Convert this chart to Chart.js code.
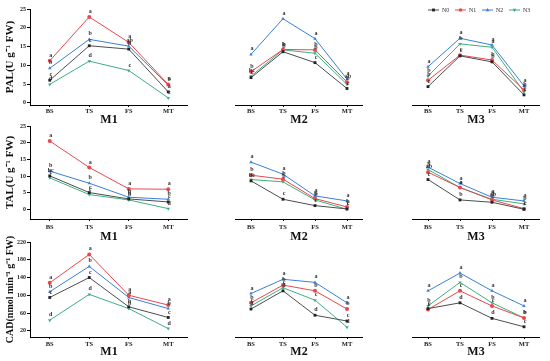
<!DOCTYPE html>
<html>
<head>
<meta charset="utf-8">
<script src="https://cdn.jsdelivr.net/npm/chart.js@4.4.0/dist/chart.umd.min.js"></script>
<style>
  html, body { margin: 0; padding: 0; background: #fff; }
  #wrap { position: relative; width: 550px; height: 361px; overflow: hidden; }
  #wrap canvas { position: absolute; }
</style>
</head>
<body>
<div id="wrap"></div>
<script>
// Categories and series
var stages = ['BS', 'TS', 'FS', 'MT'];
var seriesNames = ['N0', 'N1', 'N2', 'N3'];
var seriesColors = ['#4d4d4d', '#e8474c', '#3a7fd9', '#3daf7f'];
var markerColors = ['#222222', '#e8474c', '#3a7fd9', '#3daf7f'];
var markerStyles = ['rect', 'circle', 'triangle', 'triangle'];
var markerRotation = [0, 0, 0, 180];

// Tick labels
var palTicks = [0, 5, 10, 15, 20, 25];
var talTicks = [0, 5, 10, 15, 20, 25];
var cadTicks = [20, 40, 60, 80, 100, 120, 140, 160, 180, 200, 220];

// PAL values, one row per series (N0..N3)
var palM1 = [[6.0, 15.2, 14.3, 2.9], [11.2, 22.9, 16.1, 4.9], [9.2, 16.9, 15.1, 4.7], [4.9, 11.1, 8.6, 1.3]];
var palM2 = [[6.7, 13.6, 10.7, 3.8], [8.3, 14.2, 14.1, 5.5], [12.9, 22.4, 17.1, 6.3], [7.1, 14.1, 13.2, 4.9]];
var palM3 = [[4.3, 12.5, 10.9, 2.1], [6.0, 12.7, 11.4, 3.4], [9.6, 17.2, 15.4, 4.5], [7.1, 15.7, 14.8, 2.9]];

// TAL values
var talM1 = [[10.1, 5.1, 3.2, 2.3], [20.5, 12.6, 6.2, 6.1], [11.5, 7.9, 3.7, 3.1], [9.5, 4.5, 2.9, 0.3]];
var talM2 = [[8.6, 3.1, 1.2, 0.2], [10.3, 9.1, 3.3, 0.8], [14.2, 10.6, 4.1, 2.6], [9.0, 8.3, 2.9, 0.1]];
var talM3 = [[9.0, 2.9, 2.2, 0.1], [11.2, 6.6, 2.9, 0.3], [12.7, 7.8, 3.7, 2.6], [12.0, 6.6, 3.1, 1.7]];

// CAD values
var cadM1 = [[95, 140, 74, 50], [128, 192, 100, 78], [108, 165, 95, 70], [44, 102, 70, 25]];
var cadM2 = [[69, 110, 55, 42], [83, 123, 110, 69], [104, 136, 129, 83], [76, 117, 89, 28]];
var cadM3 = [[70, 83, 48, 29], [68, 110, 76, 49], [110, 150, 110, 76], [76, 129, 83, 49]];

// Significance letters
var palM1Sig = [['c', 'c', 'b', 'a'], ['a', 'a', 'a', 'a'], ['b', 'b', 'ab', 'b'], ['d', 'd', 'c', 'c']];
var palM2Sig = [['c', 'b', 'c', 'c'], ['b', 'b', 'b', 'ab'], ['a', 'a', 'a', 'a'], ['bc', 'b', 'b', 'b']];
var palM3Sig = [['c', 'c', 'b', 'c'], ['b', 'c', 'b', 'b'], ['a', 'a', 'a', 'a'], ['b', 'b', 'a', 'b']];
var talM1Sig = [['bc', 'c', 'b', 'c'], ['a', 'a', 'a', 'a'], ['b', 'b', 'b', 'b'], ['c', 'c', 'b', 'd']];
var talM2Sig = [['bc', 'c', 'c', 'c'], ['b', 'b', 'b', 'b'], ['a', 'a', 'a', 'a'], ['c', 'b', 'b', 'c']];
var talM3Sig = [['c', 'b', 'b', 'c'], ['ab', 'a', 'ab', 'c'], ['a', 'a', 'a', 'a'], ['b', 'a', 'b', 'b']];
var cadM1Sig = [['c', 'c', 'b', 'c'], ['a', 'a', 'a', 'a'], ['b', 'b', 'a', 'b'], ['d', 'd', 'b', 'd']];
var cadM2Sig = [['d', 'd', 'd', 'c'], ['b', 'b', 'b', 'b'], ['a', 'a', 'a', 'a'], ['c', 'c', 'c', 'd']];
var cadM3Sig = [['c', 'd', 'd', 'c'], ['c', 'c', 'c', 'b'], ['a', 'a', 'a', 'a'], ['b', 'b', 'b', 'b']];

var serif = '"Liberation Serif", "Times New Roman", serif';

// Layout of the three rows and three columns
var rows = [
    { title: 'PAL(U g\u207B\u00B9 FW)', titleSize: 11, min: -0.6, max: 25, ticks: palTicks,
      top: 0, axisH: 22, labelPad: 0, data: [palM1, palM2, palM3], sig: [palM1Sig, palM2Sig, palM3Sig], bottom: 105 },
    { title: 'TAL(U g\u207B\u00B9 FW)', titleSize: 11, min: -2.8, max: 25, ticks: talTicks,
      top: 117, axisH: 25, labelPad: 2, data: [talM1, talM2, talM3], sig: [talM1Sig, talM2Sig, talM3Sig], bottom: 219 },
    { title: 'CAD(nmol min\u207B\u00B9 g\u207B\u00B9 FW)', titleSize: 10, min: 6, max: 220, ticks: cadTicks,
      top: 233, axisH: 22, labelPad: 1, data: [cadM1, cadM2, cadM3], sig: [cadM1Sig, cadM2Sig, cadM3Sig], bottom: 337 }
];
var cols = [
    { left: 0, width: 188, yAxis: true, name: 'M1' },
    { left: 205, width: 158, yAxis: false, name: 'M2' },
    { left: 382, width: 158, yAxis: false, name: 'M3' }
];

// Draws a marker shape by hand (used by the legend)
function drawMarker(ctx, style, rot, x, y, r) {
    ctx.save();
    ctx.translate(x, y);
    ctx.rotate(rot * Math.PI / 180);
    ctx.beginPath();
    if (style === 'rect') {
        ctx.rect(-r * 0.8, -r * 0.8, r * 1.6, r * 1.6);
    } else if (style === 'circle') {
        ctx.arc(0, 0, r, 0, Math.PI * 2);
    } else {
        ctx.moveTo(0, -r * 1.1);
        ctx.lineTo(r, r * 0.7);
        ctx.lineTo(-r, r * 0.7);
        ctx.closePath();
    }
    ctx.fill();
    ctx.restore();
}

// Letters written above every point
var sigLetters = {
    id: 'sigLetters',
    afterDatasetsDraw: function(chart) {
        var ctx = chart.ctx;
        ctx.save();
        ctx.font = 'bold 6px ' + serif;
        ctx.fillStyle = '#333';
        ctx.textAlign = 'center';
        ctx.textBaseline = 'bottom';
        chart.data.datasets.forEach(function(ds, i) {
            var meta = chart.getDatasetMeta(i);
            meta.data.forEach(function(pt, j) {
                ctx.fillText(ds.sig[j], pt.x + 1, pt.y - 2.5);
            });
        });
        ctx.restore();
    }
};

// Line + marker legend in the top right
var lineLegend = {
    id: 'lineLegend',
    afterDraw: function(chart) {
        var ctx = chart.ctx;
        ctx.save();
        ctx.font = '6px ' + serif;
        ctx.textBaseline = 'middle';
        chart.data.datasets.forEach(function(ds, i) {
            var x = 46 + i * 27;
            var y = 10;
            ctx.strokeStyle = seriesColors[i];
            ctx.lineWidth = 1;
            ctx.beginPath();
            ctx.moveTo(x, y);
            ctx.lineTo(x + 11, y);
            ctx.stroke();
            ctx.fillStyle = markerColors[i];
            drawMarker(ctx, markerStyles[i], markerRotation[i], x + 5.5, y, 1.8);
            ctx.fillStyle = '#333';
            ctx.fillText(ds.label, x + 14, y);
        });
        ctx.restore();
    }
};

document.addEventListener('DOMContentLoaded', function() {
    var wrap = document.getElementById('wrap');

    rows.forEach(function(row, r) {
        cols.forEach(function(col, c) {
            var canvas = document.createElement('canvas');
            var height = (row.bottom - row.top) + row.axisH;
            canvas.width = col.width;
            canvas.height = height;
            canvas.style.left = col.left + 'px';
            canvas.style.top = row.top + 'px';
            canvas.style.width = col.width + 'px';
            canvas.style.height = height + 'px';
            wrap.appendChild(canvas);

            var datasets = seriesNames.map(function(name, i) {
                return {
                    label: name,
                    data: row.data[c][i],
                    sig: row.sig[c][i],
                    borderColor: seriesColors[i],
                    backgroundColor: markerColors[i],
                    pointBackgroundColor: markerColors[i],
                    pointBorderColor: markerColors[i],
                    pointStyle: markerStyles[i],
                    rotation: markerRotation[i],
                    pointRadius: 2,
                    pointBorderWidth: 0,
                    borderWidth: 1,
                    tension: 0,
                    fill: false
                };
            });

            var plugins = [sigLetters];
            if (r === 0 && c === 2) plugins.push(lineLegend);

            new Chart(canvas.getContext('2d'), {
                type: 'line',
                data: { labels: stages, datasets: datasets },
                plugins: plugins,
                options: {
                    responsive: false,
                    animation: false,
                    layout: { autoPadding: false, padding: { top: 9, left: 0, right: 0, bottom: 0 } },
                    plugins: { legend: { display: false }, tooltip: { enabled: false } },
                    scales: {
                        x: {
                            offset: true,
                            grid: { display: true, drawOnChartArea: false, drawTicks: true, tickLength: 2, color: '#000', offset: false },
                            border: { display: true, color: '#000', width: 1 },
                            ticks: { color: '#222', padding: row.labelPad, font: { family: serif, size: 6.5, weight: 'bold' } },
                            title: { display: true, text: col.name, color: '#111', padding: 0,
                                     font: { family: serif, size: 12, weight: 'bold' } },
                            afterFit: function(scale) { scale.height = row.axisH; }
                        },
                        y: {
                            display: col.yAxis,
                            min: row.min,
                            max: row.max,
                            grid: { display: true, drawOnChartArea: false, drawTicks: true, tickLength: 3, color: '#000' },
                            border: { display: true, color: '#000', width: 1 },
                            ticks: { color: '#222', padding: 1, font: { family: serif, size: 6, weight: 'bold' } },
                            afterBuildTicks: function(scale) {
                                scale.ticks = row.ticks.map(function(v) { return { value: v }; });
                            },
                            title: { display: true, text: row.title, color: '#111', padding: { top: 4, bottom: 0 },
                                     font: { family: serif, size: row.titleSize, weight: 'bold' } },
                            afterFit: function(scale) { scale.width = 30; }
                        }
                    }
                }
            });
        });
    });
});
</script>
</body>
</html>
